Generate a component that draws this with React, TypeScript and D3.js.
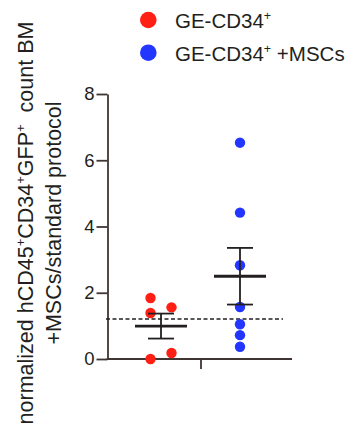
import { useEffect, useRef } from 'react';
import * as d3 from 'd3';

const groupNames = ['GE-CD34', 'GE-CD34 +MSCs'];
const groupColors = ['#ff1f14', '#2236ff'];
const redValues = [1.84, 1.39, 0, 1.56, 0.18];
const blueValues = [6.53, 4.42, 2.83, 1.57, 1.05, 0.72, 0.37];
const yTicks = [0, 2, 4, 6, 8];
const referenceValue = 1.21;

const FONT = '"Liberation Sans", Arial, Helvetica, sans-serif';
const INK = '#231f20';
const AXIS = '#3f3633';

// spread overlapping dots left/right like a prism scatter
const spreadDots = (values: number[], yScale: d3.ScaleLinear<number, number>, diameter: number) => {
  const sorted = values.map((v, i) => ({ v, i })).sort((a, b) => a.v - b.v);
  const side = new Array(values.length).fill(0);
  sorted.forEach((d, k) => {
    const prev = sorted[k - 1];
    const next = sorted[k + 1];
    const nearPrev = prev && Math.abs(yScale(prev.v) - yScale(d.v)) < diameter;
    const nearNext = next && Math.abs(yScale(next.v) - yScale(d.v)) < diameter;
    if (nearPrev) side[d.i] = -side[prev.i];
    else if (nearNext) side[d.i] = -1;
  });
  return side;
};

export default function App() {
  const ref = useRef<SVGSVGElement>(null);

  useEffect(() => {
    const svg = d3.select(ref.current!);
    svg.selectAll('*').remove();

    const plotLeft = 107.5;
    const plotRight = 292;
    const yScale = d3.scaleLinear().domain([0, 8]).range([359, 94]);
    const xScale = d3.scalePoint<string>().domain(groupNames).range([161, 240]);
    const dotR = 5.2;

    // y axis
    svg
      .append('g')
      .attr('transform', `translate(${plotLeft},0)`)
      .call(d3.axisLeft(yScale).tickValues(yTicks).tickSize(11).tickSizeOuter(0).tickPadding(2))
      .call((g) => {
        g.select('.domain').attr('stroke', AXIS).attr('stroke-width', 1.8);
        g.selectAll('.tick line').attr('stroke', AXIS).attr('stroke-width', 1.8);
        g.selectAll('.tick text')
          .attr('fill', INK)
          .attr('font-size', 18.5)
          .attr('font-family', FONT);
      });

    // x axis: one tick between the two groups
    const midScale = d3
      .scaleLinear()
      .domain([0, 1])
      .range([xScale(groupNames[0])!, xScale(groupNames[1])!]);
    svg
      .append('g')
      .attr('transform', `translate(0,${yScale(0)})`)
      .call(d3.axisBottom(midScale).tickValues([0.5]).tickSize(10).tickSizeOuter(0).tickFormat(() => ''))
      .call((g) => {
        g.select('.domain').remove();
        g.selectAll('.tick line').attr('stroke', AXIS).attr('stroke-width', 1.8);
        g.append('line')
          .attr('x1', plotLeft - 0.9)
          .attr('x2', plotRight)
          .attr('stroke', AXIS)
          .attr('stroke-width', 1.8);
      });

    // dashed reference line
    svg
      .append('line')
      .attr('x1', plotLeft - 1.5)
      .attr('x2', 283)
      .attr('y1', yScale(referenceValue))
      .attr('y2', yScale(referenceValue))
      .attr('stroke', INK)
      .attr('stroke-width', 1.5)
      .attr('stroke-dasharray', '4 2.5');

    [redValues, blueValues].forEach((values, gi) => {
      const cx = xScale(groupNames[gi])!;
      const side = spreadDots(values, yScale, dotR * 2);
      const offsets = side.map((s) => s * 10.5);

      svg
        .append('g')
        .selectAll('circle')
        .data(values)
        .enter()
        .append('circle')
        .attr('cx', (_, i) => cx + offsets[i])
        .attr('cy', (d) => yScale(d))
        .attr('r', dotR)
        .attr('fill', groupColors[gi]);

      const mean = d3.mean(values)!;
      const sem = d3.deviation(values)! / Math.sqrt(values.length);
      const g = svg.append('g').attr('stroke', INK);
      g.append('line')
        .attr('x1', cx)
        .attr('x2', cx)
        .attr('y1', yScale(mean + sem))
        .attr('y2', yScale(mean - sem))
        .attr('stroke-width', 1.8);
      [mean + sem, mean - sem].forEach((v) => {
        g.append('line')
          .attr('x1', cx - 13)
          .attr('x2', cx + 13)
          .attr('y1', yScale(v))
          .attr('y2', yScale(v))
          .attr('stroke-width', 1.8);
      });
      g.append('line')
        .attr('x1', cx - 26)
        .attr('x2', cx + 26)
        .attr('y1', yScale(mean))
        .attr('y2', yScale(mean))
        .attr('stroke-width', 2.8);
    });

    // legend
    const legend = svg.append('g').attr('font-family', FONT).attr('fill', INK);
    groupNames.forEach((name, i) => {
      const y = 20 + i * 32.7;
      legend.append('circle').attr('cx', 148.3).attr('cy', y).attr('r', 8.3).attr('fill', groupColors[i]);
      const t = legend
        .append('text')
        .attr('x', 175)
        .attr('y', y + 8.3)
        .attr('font-size', 20.5);
      const parts = name.split(' ');
      t.append('tspan').text(parts[0]);
      t.append('tspan').attr('dy', -8).attr('font-size', 12.5).text('+');
      if (parts[1]) {
        t.append('tspan').attr('dy', 8).text(' ' + parts[1]);
      }
    });

    // y axis title
    const title = svg
      .append('g')
      .attr('font-family', FONT)
      .attr('fill', INK)
      .attr('font-size', 21.5)
      .attr('text-anchor', 'middle');
    const line1 = title.append('text').attr('transform', 'translate(33,223) rotate(-90)');
    const pieces: [string, boolean][] = [
      ['normalized hCD45', false],
      ['+', true],
      ['CD34', false],
      ['+', true],
      ['GFP', false],
      ['+', true],
      ['\u00a0 count BM', false]
    ];
    let raised = false;
    pieces.forEach(([text, isSup]) => {
      const span = line1.append('tspan').text(text);
      if (isSup && !raised) {
        span.attr('dy', -8).attr('font-size', 13);
        raised = true;
      } else if (isSup) {
        span.attr('font-size', 13);
      } else if (raised) {
        span.attr('dy', 8);
        raised = false;
      }
    });
    title
      .append('text')
      .attr('transform', 'translate(61,223) rotate(-90)')
      .text('+MSCs/standard protocol');
  }, []);

  return (
    <svg
      ref={ref}
      width={350}
      height={426}
      style={{ position: 'absolute', left: 0, top: 0, background: '#fff' }}
    />
  );
}
